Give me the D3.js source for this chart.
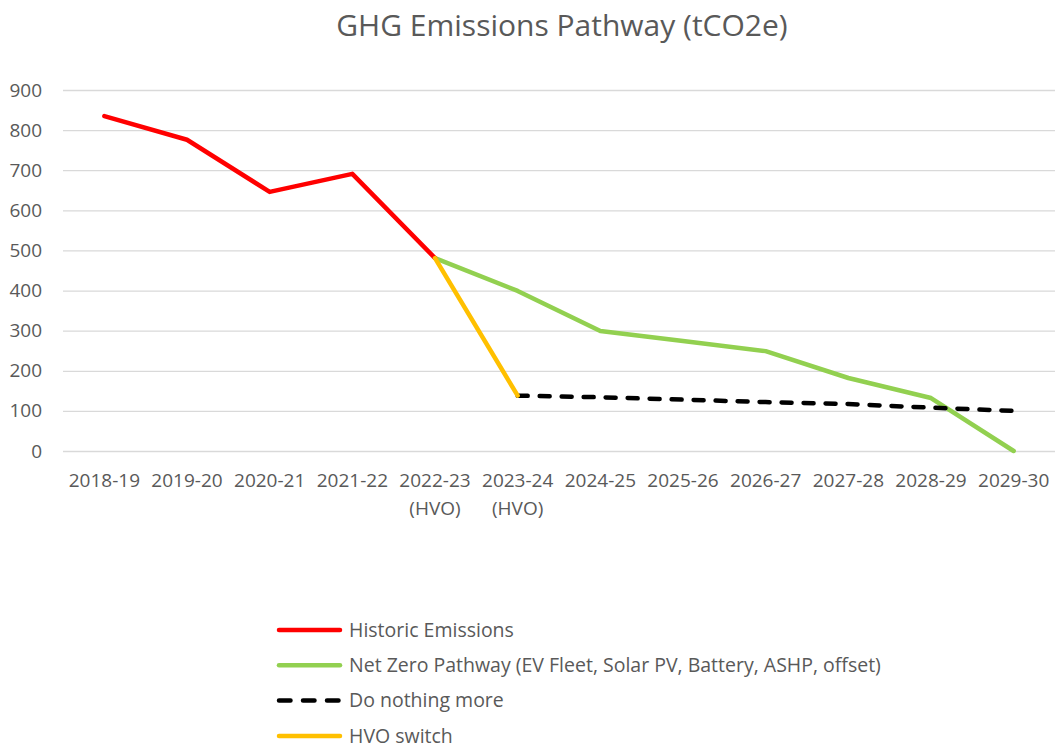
<!DOCTYPE html>
<html>
<head>
<meta charset="utf-8">
<script src="https://cdn.jsdelivr.net/npm/d3@7"></script>
<style>
  body { margin: 0; background: #fff; }
  text { font-family: "Open Sans", "Noto Sans", sans-serif; fill: #595959; }
</style>
</head>
<body>
<div id="chart"></div>
<script>
const categories = ['2018-19', '2019-20', '2020-21', '2021-22', '2022-23\n(HVO)', '2023-24\n(HVO)',
  '2024-25', '2025-26', '2026-27', '2027-28', '2028-29', '2029-30'];
const historic = [835, 776, 646, 691, 481, null, null, null, null, null, null, null];
const netZero = [null, null, null, null, 481, 399, 299, 274, 249, 182, 132, 0];
const doNothing = [null, null, null, null, null, 138, 134, 128, 122, 117, 108, 100];
const hvoSwitch = [null, null, null, null, 481, 138, null, null, null, null, null, null];
const yTicks = [0, 100, 200, 300, 400, 500, 600, 700, 800, 900];

const width = 1055, height = 748;
const margin = {top: 90, right: 0, bottom: 297, left: 63};
const plotW = width - margin.left - margin.right;
const plotH = height - margin.top - margin.bottom;

const svg = d3.select('#chart')
  .append('svg')
  .attr('width', width)
  .attr('height', height);

svg.append('text')
  .attr('x', 562)
  .attr('y', 36)
  .attr('text-anchor', 'middle')
  .style('font-size', '30px')
  .text('GHG Emissions Pathway (tCO2e)');

const g = svg.append('g')
  .attr('transform', 'translate(' + margin.left + ',' + margin.top + ')');

const x = d3.scaleBand()
  .domain(categories)
  .range([0, plotW]);

const y = d3.scaleLinear()
  .domain([0, 900])
  .range([plotH, 0]);

// gridlines + y labels
const yAxis = g.append('g')
  .call(d3.axisLeft(y).tickValues(yTicks).tickSize(-plotW).tickPadding(21));
yAxis.select('.domain').remove();
yAxis.selectAll('line').attr('stroke', '#d9d9d9').attr('stroke-width', 1.3);
yAxis.selectAll('text').style('font-size', '19px').attr('fill', '#595959');

// x labels
const xAxis = g.append('g')
  .attr('transform', 'translate(0,' + plotH + ')')
  .call(d3.axisBottom(x).tickSize(0).tickPadding(23));
xAxis.select('.domain').remove();
xAxis.selectAll('text')
  .style('font-size', '19px')
  .attr('fill', '#595959')
  .each(function (d) {
    const parts = d.split('\n');
    const t = d3.select(this).text(null);
    parts.forEach((p, i) => {
      t.append('tspan')
        .attr('x', 0)
        .attr('dy', i === 0 ? '0.71em' : '1.47em')
        .text(p);
    });
  });

const line = d3.line()
  .defined(d => d != null)
  .x((d, i) => x(categories[i]) + x.bandwidth() / 2)
  .y(d => y(d));

const series = [
  {name: 'Net Zero Pathway (EV Fleet, Solar PV, Battery, ASHP, offset)', values: netZero, color: '#92d050', dash: null},
  {name: 'Do nothing more', values: doNothing, color: '#000000', dash: '10,12'},
  {name: 'Historic Emissions', values: historic, color: '#ff0000', dash: null},
  {name: 'HVO switch', values: hvoSwitch, color: '#ffc000', dash: null}
];

series.forEach(s => {
  g.append('path')
    .datum(s.values)
    .attr('fill', 'none')
    .attr('stroke', s.color)
    .attr('stroke-width', 4.5)
    .attr('stroke-linejoin', 'round')
    .attr('stroke-linecap', 'round')
    .attr('stroke-dasharray', s.dash)
    .attr('d', line);
});

// legend
const legendOrder = ['Historic Emissions', 'Net Zero Pathway (EV Fleet, Solar PV, Battery, ASHP, offset)', 'Do nothing more', 'HVO switch'];
const legend = svg.append('g').attr('transform', 'translate(277,630)');
legendOrder.forEach((name, i) => {
  const s = series.find(d => d.name === name);
  const row = legend.append('g').attr('transform', 'translate(0,' + (i * 35.3) + ')');
  row.append('line')
    .attr('x1', 2).attr('x2', 63)
    .attr('stroke', s.color)
    .attr('stroke-width', 4.5)
    .attr('stroke-linecap', 'round')
    .attr('stroke-dasharray', s.dash ? '11.5,12.5' : null);
  row.append('text')
    .attr('x', 72)
    .attr('dy', '0.35em')
    .style('font-size', '19.5px')
    .text(name);
});
</script>
</body>
</html>
